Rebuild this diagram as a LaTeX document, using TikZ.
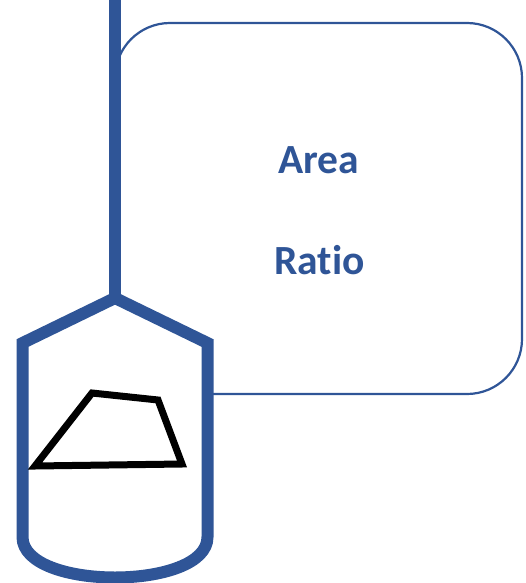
\documentclass[tikz,border=0pt]{standalone}
\usepackage{fontspec}
\setmainfont[Ligatures={NoCommon}]{Carlito}
\definecolor{vblue}{HTML}{2F5597}
\begin{document}
\begin{tikzpicture}[x=1pt,y=-1pt,
  panel/.style={draw=vblue, line width=2.2pt, rounded corners=55pt},
  pipe/.style={draw=vblue, line width=12pt},
  vessel/.style={draw=vblue, line width=12pt, fill=white, line join=miter},
  quad/.style={draw=black, line width=7pt, line join=miter},
  label/.style={text=vblue, font=\bfseries\fontsize{41.5}{41.5}\selectfont, anchor=base, inner sep=0pt}]
\useasboundingbox (0,0) rectangle (526,583);
\draw[panel] (115,23) rectangle (522,394);
\coordinate (top) at (115,0);
\coordinate (apex) at (115,298);
\draw[pipe] (top) -- (apex);
\draw[vessel] (apex) -- (207.5,343) -- (207.5,537) .. controls (207.5,591) and (22.5,591) .. (22.5,537) -- (22.5,343) -- cycle;
\draw[quad] (92,393) -- (158,400) -- (182,464) -- (35,466) -- cycle;
\node[label] (area) at (318.5,173) {Area};
\node[label] (ratio) at (319.5,274) {Ratio};
\end{tikzpicture}
\end{document}
